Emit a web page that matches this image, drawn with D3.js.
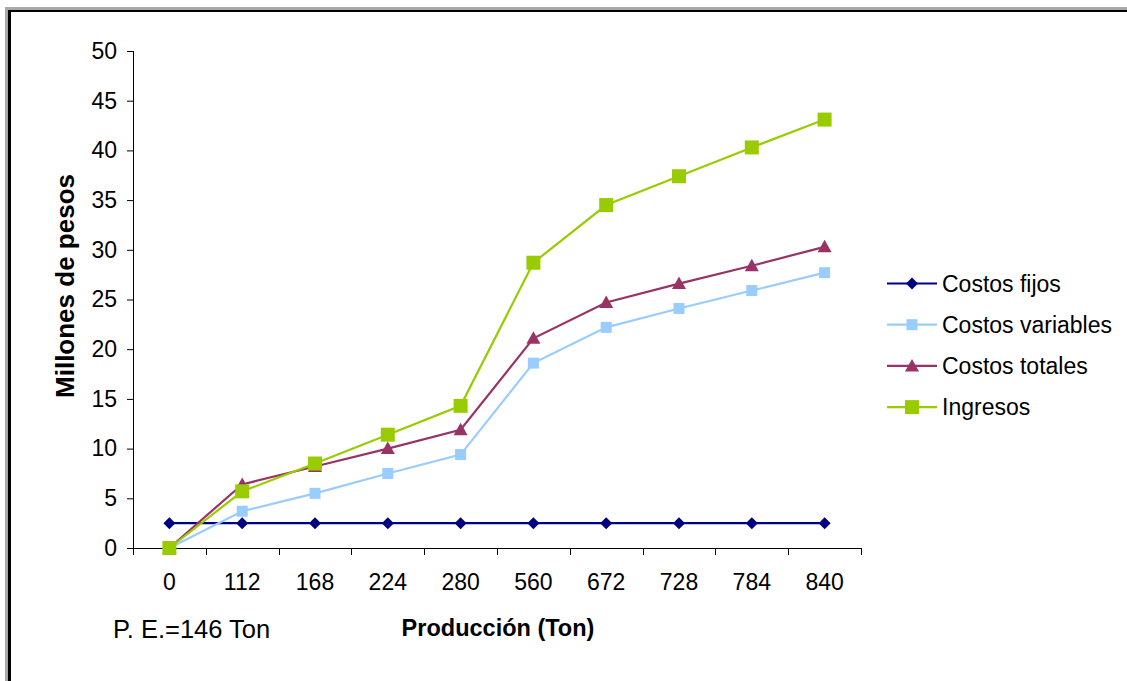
<!DOCTYPE html>
<html>
<head>
<meta charset="utf-8">
<script src="https://cdn.jsdelivr.net/npm/d3@7"></script>
<style>
  html, body { margin: 0; padding: 0; background: #fff; }
  svg { display: block; font-family: "Liberation Sans", Arial, sans-serif; }
</style>
</head>
<body>
<svg id="chart" width="1127" height="681"></svg>
<script>
// Production levels (Ton)
const categories = ["0", "112", "168", "224", "280", "560", "672", "728", "784", "840"];

// Values in millions of pesos
const costosFijos     = [2.5, 2.5, 2.5, 2.5, 2.5, 2.5, 2.5, 2.5, 2.5, 2.5];
const costosVariables = [0, 3.7, 5.5, 7.5, 9.4, 18.6, 22.2, 24.1, 25.9, 27.7];
const costosTotales   = [0, 6.4, 8.2, 10.0, 11.9, 21.1, 24.7, 26.6, 28.4, 30.3];
const ingresos        = [0, 5.7, 8.5, 11.4, 14.3, 28.7, 34.5, 37.4, 40.3, 43.1];

const yTicks = [0, 5, 10, 15, 20, 25, 30, 35, 40, 45, 50];

const series = [
  { name: "Costos fijos",     values: costosFijos,     color: "#000080", marker: "diamond",  size: 12 },
  { name: "Costos variables", values: costosVariables, color: "#99CCFF", marker: "square",   size: 11 },
  { name: "Costos totales",   values: costosTotales,   color: "#993366", marker: "triangle", size: 14 },
  { name: "Ingresos",         values: ingresos,        color: "#99CC00", marker: "square",   size: 14 }
];

const FONT = 23;

const svg = d3.select("#chart");

// Frame along the top and left edges
svg.append("rect").attr("x", 5).attr("y", 7).attr("width", 1122).attr("height", 3).attr("fill", "#a8a8a8");
svg.append("rect").attr("x", 5).attr("y", 7).attr("width", 3).attr("height", 674).attr("fill", "#a8a8a8");
svg.append("rect").attr("x", 8).attr("y", 10).attr("width", 1119).attr("height", 2).attr("fill", "#000");
svg.append("rect").attr("x", 8).attr("y", 10).attr("width", 3).attr("height", 671).attr("fill", "#000");

const plot = { left: 133, right: 861, top: 51, bottom: 548 };

const x = d3.scaleBand().domain(categories).range([plot.left, plot.right]).padding(0);
const y = d3.scaleLinear().domain([0, 50]).range([plot.bottom, plot.top]);

// Y axis
const yAxis = svg.append("g")
  .attr("transform", `translate(${plot.left},0)`)
  .call(d3.axisLeft(y).tickValues(yTicks).tickSize(6).tickPadding(10));
yAxis.select(".domain").attr("stroke", "#000").attr("d", `M0.5,${plot.top}V${plot.bottom}`);
yAxis.selectAll(".tick line").attr("stroke", "#000");
yAxis.selectAll(".tick text").attr("font-size", FONT).attr("fill", "#000")
  .attr("font-family", "Liberation Sans, Arial, sans-serif");

// X axis: ticks on the category boundaries
const xg = svg.append("g").attr("transform", `translate(0,${plot.bottom})`);
xg.append("line").attr("x1", plot.left).attr("x2", plot.right).attr("y1", 0.5).attr("y2", 0.5)
  .attr("stroke", "#000");
const bounds = categories.map(c => x(c)).concat([plot.right]);
xg.selectAll("line.tk").data(bounds).join("line").attr("class", "tk")
  .attr("x1", d => Math.round(d) + 0.5).attr("x2", d => Math.round(d) + 0.5)
  .attr("y1", 0).attr("y2", 7).attr("stroke", "#000");
xg.selectAll("text").data(categories).join("text")
  .attr("x", d => x(d) + x.bandwidth() / 2)
  .attr("y", 42)
  .attr("text-anchor", "middle")
  .attr("font-size", FONT)
  .text(d => d);

// Axis titles and note
svg.append("text")
  .attr("transform", "translate(74,286) rotate(-90)")
  .attr("text-anchor", "middle")
  .attr("font-size", 26).attr("font-weight", "bold")
  .text("Millones de pesos");

svg.append("text")
  .attr("x", 498).attr("y", 636)
  .attr("text-anchor", "middle")
  .attr("font-size", 23.5).attr("font-weight", "bold")
  .text("Producción (Ton)");

svg.append("text")
  .attr("x", 113).attr("y", 638)
  .attr("font-size", 25.5)
  .text("P. E.=146 Ton");

// Marker drawing
function markerPath(type, s) {
  const h = s / 2;
  if (type === "diamond") return `M0,${-h}L${h},0L0,${h}L${-h},0Z`;
  if (type === "triangle") return `M0,${-h}L${h},${h - 1.5}L${-h},${h - 1.5}Z`;
  return `M${-h},${-h}H${h}V${h}H${-h}Z`;
}

const line = d3.line()
  .x((d, i) => x(categories[i]) + x.bandwidth() / 2)
  .y(d => y(d));

series.forEach(s => {
  const g = svg.append("g");
  g.append("path")
    .attr("d", line(s.values))
    .attr("fill", "none")
    .attr("stroke", s.color)
    .attr("stroke-width", 2.2);
  g.selectAll("path.mk").data(s.values).join("path").attr("class", "mk")
    .attr("transform", (d, i) => `translate(${x(categories[i]) + x.bandwidth() / 2},${y(d)})`)
    .attr("d", markerPath(s.marker, s.size))
    .attr("fill", s.color);
});

// Legend
const legend = svg.append("g").attr("transform", "translate(887,283.5)");
series.forEach((s, i) => {
  const row = legend.append("g").attr("transform", `translate(0,${i * 41.2})`);
  row.append("line").attr("x1", 0).attr("x2", 50).attr("y1", 0).attr("y2", 0)
    .attr("stroke", s.color).attr("stroke-width", 2.2);
  row.append("path").attr("transform", "translate(25,0)")
    .attr("d", markerPath(s.marker, s.size)).attr("fill", s.color);
  row.append("text").attr("x", 55).attr("y", 8)
    .attr("font-size", FONT).text(s.name);
});
</script>
</body>
</html>
